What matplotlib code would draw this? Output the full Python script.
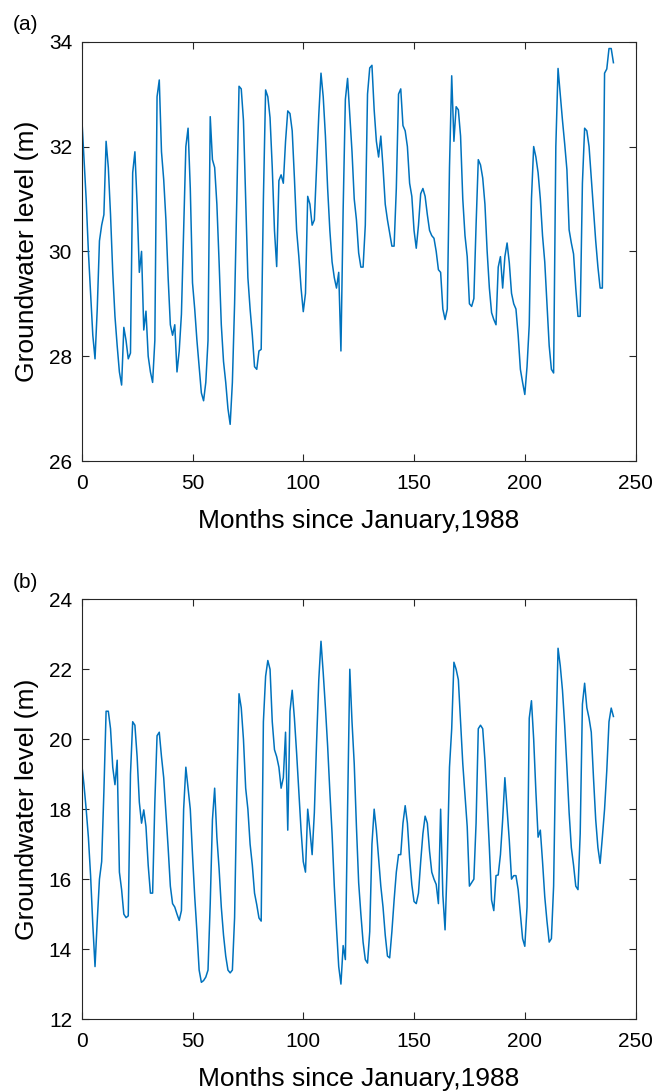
import numpy as np
import matplotlib
matplotlib.use("Agg")
import matplotlib.pyplot as plt

plt.rcParams['font.family'] = ['Liberation Sans', 'DejaVu Sans']

# groundwater level, well (a), one value per month from Jan 1988
level_a = [
    32.57, 31.8, 31.0, 30.0, 29.2, 28.4, 27.95, 28.9, 30.2, 30.5,
    30.7, 32.1, 31.6, 30.7, 29.6, 28.76, 28.2, 27.7, 27.45, 28.55,
    28.3, 27.95, 28.06, 31.5, 31.9, 30.9, 29.6, 30.0, 28.5, 28.86,
    28.0, 27.7, 27.5, 28.3, 32.95, 33.27, 31.9, 31.37, 30.6, 29.5,
    28.6, 28.4, 28.6, 27.7, 28.1, 28.8, 30.4, 32.0, 32.35, 31.2,
    29.4, 28.9, 28.3, 27.8, 27.3, 27.15, 27.5, 28.3, 32.57, 31.75,
    31.6, 30.9, 29.8, 28.6, 27.9, 27.5, 27.0, 26.7, 27.5, 29.0,
    31.0, 33.15, 33.1, 32.5, 31.0, 29.5, 28.9, 28.4, 27.8, 27.75,
    28.1, 28.13, 31.0, 33.08, 32.95, 32.55, 31.6, 30.4, 29.71, 31.35,
    31.46, 31.3, 32.1, 32.68, 32.63, 32.3, 31.4, 30.4, 29.9, 29.3,
    28.85, 29.2, 31.05, 30.9, 30.5, 30.6, 31.6, 32.6, 33.4, 32.95,
    32.2, 31.2, 30.4, 29.8, 29.5, 29.3, 29.6, 28.1, 30.8, 32.9,
    33.3, 32.6, 31.9, 31.0, 30.6, 29.97, 29.7, 29.7, 30.5, 33.0,
    33.5, 33.55, 32.7, 32.1, 31.8, 32.2, 31.6, 30.9, 30.6, 30.35,
    30.1, 30.1, 31.2, 33.0, 33.1, 32.4, 32.3, 32.0, 31.3, 31.05,
    30.4, 30.06, 30.5, 31.1, 31.2, 31.05, 30.7, 30.4, 30.3, 30.25,
    30.0, 29.65, 29.6, 28.9, 28.7, 28.9, 31.6, 33.35, 32.1, 32.76,
    32.7, 32.2, 31.0, 30.3, 29.9, 29.0, 28.95, 29.1, 30.5, 31.75,
    31.65, 31.4, 30.9, 30.0, 29.3, 28.83, 28.7, 28.6, 29.7, 29.9,
    29.3, 29.9, 30.16, 29.78, 29.2, 29.0, 28.9, 28.4, 27.75, 27.5,
    27.27, 27.8, 28.6, 31.0, 32.0, 31.8, 31.5, 31.0, 30.3, 29.8,
    29.0, 28.2, 27.75, 27.68, 32.0, 33.49, 33.0, 32.5, 32.05, 31.56,
    30.41, 30.16, 29.95, 29.3, 28.76, 28.76, 31.3, 32.35, 32.3, 32.0,
    31.4, 30.8, 30.2, 29.7, 29.3, 29.3, 33.4, 33.48, 33.87, 33.87,
    33.6,
]

# groundwater level, well (b)
level_b = [
    19.3, 18.7, 18.0, 17.2, 16.1, 14.7, 13.5, 14.8, 16.0, 16.5,
    18.5, 20.8, 20.8, 20.3, 19.2, 18.7, 19.4, 16.2, 15.7, 15.0,
    14.9, 14.95, 19.0, 20.5, 20.4, 19.5, 18.2, 17.6, 17.98, 17.5,
    16.4, 15.6, 15.6, 18.2, 20.1, 20.2, 19.5, 18.9, 17.9, 16.9,
    15.8, 15.3, 15.2, 15.0, 14.82, 15.1, 18.0, 19.2, 18.6, 18.0,
    16.7, 15.5, 14.5, 13.4, 13.05, 13.1, 13.2, 13.4, 15.3, 17.7,
    18.6, 17.2, 16.3, 15.2, 14.4, 13.8, 13.4, 13.32, 13.4, 14.9,
    18.5, 21.3, 20.9, 20.0, 18.6, 18.0, 17.0, 16.4, 15.6, 15.27,
    14.89, 14.8, 20.5, 21.8, 22.25, 22.0, 20.5, 19.7, 19.5, 19.2,
    18.6, 18.9, 20.2, 17.4, 20.8, 21.4, 20.6, 19.6, 18.5, 17.4,
    16.5, 16.2, 18.0, 17.4, 16.7, 17.9, 19.9, 21.7, 22.8, 21.9,
    20.9, 19.8, 18.5, 17.3, 15.8, 14.6, 13.5, 13.0, 14.1, 13.7,
    18.0, 22.0, 20.5, 19.3, 17.5, 15.9, 15.0, 14.2, 13.7, 13.6,
    14.5, 17.0, 18.0, 17.4, 16.6, 15.8, 15.2, 14.4, 13.8, 13.75,
    14.5, 15.4, 16.2, 16.7, 16.7, 17.6, 18.1, 17.6, 16.6, 15.84,
    15.36, 15.3, 15.6, 16.5, 17.3, 17.8, 17.6, 16.8, 16.2, 16.0,
    15.85, 15.3, 18.0, 15.55, 14.55, 16.5, 19.2, 20.3, 22.2, 22.0,
    21.7, 20.5, 19.3, 18.4, 17.5, 15.8, 15.9, 16.0, 17.6, 20.3,
    20.4, 20.3, 19.4, 18.2, 16.9, 15.4, 15.1, 16.1, 16.12, 16.7,
    17.7, 18.9, 18.0, 17.1, 16.0, 16.1, 16.1, 15.7, 15.0, 14.3,
    14.08, 15.2, 20.6, 21.1, 20.0, 18.5, 17.2, 17.4, 16.5, 15.5,
    14.8, 14.2, 14.3, 15.8, 19.8, 22.6, 22.1, 21.4, 20.4, 19.2,
    17.9, 16.9, 16.4, 15.8, 15.7, 17.3, 21.0, 21.6, 20.9, 20.6,
    20.2, 18.9, 17.7, 16.9, 16.45, 17.2, 18.0, 19.1, 20.5, 20.89,
    20.65,
]

months = np.arange(len(level_a))
x_ticks = [0, 50, 100, 150, 200, 250]
y_ticks_a = [26, 28, 30, 32, 34]
y_ticks_b = [12, 14, 16, 18, 20, 22, 24]

line_col = '#0072BD'
axis_col = '#262626'

fig = plt.figure(figsize=(6.57, 10.92), dpi=100)
ax_a = fig.add_axes([0.1244, 0.5778, 0.843, 0.3840])
ax_b = fig.add_axes([0.1244, 0.0668, 0.843, 0.3844])

panels = [(ax_a, level_a, y_ticks_a, '(a)', 15), (ax_b, level_b, y_ticks_b, '(b)', 573)]
for ax, vals, yt, tag, tag_y in panels:
    ax.plot(months, vals, color=line_col, linewidth=1.1)
    ax.set_xlim(0, 250)
    ax.set_ylim(yt[0], yt[-1])
    ax.set_xticks(x_ticks)
    ax.set_yticks(yt)
    ax.tick_params(direction='in', top=True, right=True, length=5, width=0.8,
                   color=axis_col, labelsize=15, labelcolor='black')
    ax.tick_params(axis='x', pad=9)
    ax.tick_params(axis='y', pad=7)
    for sp in ax.spines.values():
        sp.set_color(axis_col)
        sp.set_linewidth(0.8)
    ax.set_xlabel('Months since January,1988', fontsize=19, labelpad=12)
    ax.set_ylabel('Groundwater level (m)', fontsize=19, labelpad=7)
    fig.text(13 / 657, 1 - tag_y / 1092, tag, fontsize=15, va='top', ha='left')

fig.savefig('out.png', dpi=100)
